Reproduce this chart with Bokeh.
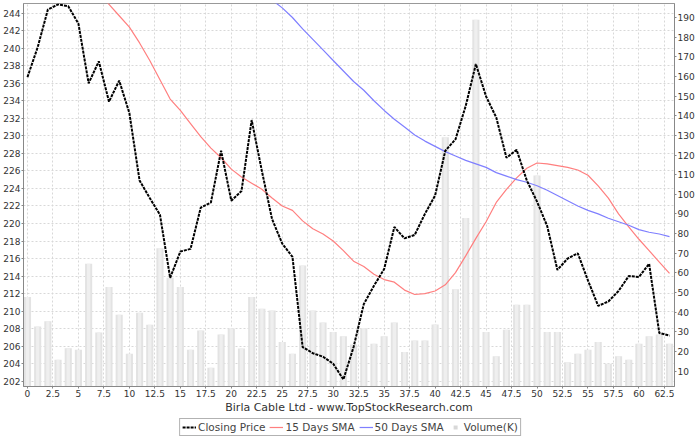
from bokeh.plotting import figure
from bokeh.layouts import column
from bokeh.models import Range1d, LinearAxis, FixedTicker, Legend, LegendItem
from bokeh.embed import file_html
from bokeh.resources import INLINE

# ---- data ----
close = [236.7, 240.1, 244.4, 245.0, 244.8, 242.8, 236.0, 238.5, 233.9, 236.3,
         232.6, 224.9, 222.9, 221.0, 213.8, 216.8, 217.1, 221.8, 222.4, 228.3,
         222.6, 223.7, 231.8, 226.0, 220.5, 217.7, 216.2, 205.9, 205.2, 204.8,
         204.0, 202.2, 205.9, 210.8, 212.9, 214.8, 219.6, 218.3, 218.7, 221.1,
         223.2, 228.3, 229.6, 233.4, 238.2, 234.5, 232.1, 227.5, 228.4, 224.9,
         222.5, 219.7, 214.7, 216.0, 216.6, 213.5, 210.6, 211.1, 212.3, 214.0,
         213.9, 215.4, 207.5, 207.2]

volume = [47.7, 32.7, 35.4, 15.8, 21.7, 20.9, 64.7, 29.7, 52.8, 38.7,
          18.9, 39.7, 33.6, 72.6, 57.5, 52.8, 20.9, 30.7, 11.7, 28.7,
          31.7, 21.6, 47.7, 41.8, 40.9, 24.8, 18.9, 63.8, 40.9, 34.8,
          29.9, 27.8, 23.6, 31.9, 24.0, 27.8, 34.8, 19.7, 25.6, 25.6,
          33.8, 129.1, 51.7, 87.9, 188.8, 29.9, 17.6, 31.1, 43.8, 43.8,
          109.6, 29.9, 29.9, 14.6, 18.9, 20.9, 24.8, 13.8, 17.6, 15.8,
          24.0, 27.8, 28.7, 24.0]

sma15_start = 7
sma15 = [246.3, 245.0, 243.7, 242.4, 240.6, 238.6, 236.4, 234.2, 232.9, 231.4,
         229.9, 228.6, 227.5, 226.2, 225.3, 224.6, 223.9, 222.9, 222.0, 221.5,
         220.3, 219.4, 218.8, 218.0, 216.9, 215.7, 215.1, 214.2, 213.6, 213.3,
         212.4, 211.9, 212.0, 212.3, 213.0, 214.4, 216.3, 218.3, 220.2, 222.4,
         223.9, 225.2, 226.3, 226.9, 226.8, 226.6, 226.4, 226.1, 225.5, 224.3,
         222.9, 221.1, 219.6, 218.2, 216.9, 215.6, 214.3]

sma50_start = 24
sma50 = [245.5, 244.6, 243.5, 242.2, 241.0, 239.8, 238.6, 237.4, 236.2, 235.2,
         234.0, 232.9, 231.9, 231.0, 230.1, 229.4, 228.8, 228.2, 227.7, 227.2,
         226.8, 226.4, 225.8, 225.4, 225.0, 224.7, 224.3, 223.8, 223.2, 222.6,
         222.0, 221.5, 221.1, 220.6, 220.2, 219.8, 219.3, 219.0, 218.8, 218.5]

x_ticks = [i * 2.5 for i in range(26)]
left_ticks = list(range(202, 246, 2))
right_ticks = list(range(10, 200, 10))

title_text = "Birla Cable Ltd - www.TopStockResearch.com"
legend_labels = ["Closing Price", "15 Days SMA", "50 Days SMA", "Volume(K)"]

# ---- figure ----
days = list(range(len(close)))
x15 = list(range(sma15_start, sma15_start + len(sma15)))
x50 = list(range(sma50_start, sma50_start + len(sma50)))

FONT = "DejaVu Sans"
RED = "#ff7f7f"
BLUE = "#7f7fff"

p = figure(frame_width=651, frame_height=383, output_backend="svg",
           toolbar_location=None,
           x_range=Range1d(-0.39, 63.49), y_range=Range1d(201.4, 245.1),
           min_border_left=0, min_border_right=0, min_border_top=3,
           min_border_bottom=0, background_fill_color="white",
           border_fill_color="white")
p.outline_line_color = "#999999"
p.extra_y_ranges = {"vol": Range1d(2.2, 197.1)}

# grid
for g in (p.xgrid, p.ygrid):
    g.grid_line_color = "#d8d8d8"
    g.grid_line_dash = "2 2"
    g.grid_line_width = 1
p.xgrid.ticker = FixedTicker(ticks=x_ticks)
p.ygrid.ticker = FixedTicker(ticks=left_ticks)

# volume bars
p.vbar(x=days, top=volume, bottom=2.2, width=0.7, fill_color="#e3e3e3",
       line_color=None, y_range_name="vol")
p.vbar(x=days, top=volume, bottom=2.2, width=0.32, fill_color="#efefef",
       line_color=None, y_range_name="vol")

# lines
p.line(x15, sma15, line_color=RED, line_width=1.2)
p.line(x50, sma50, line_color=BLUE, line_width=1.2)
p.line(days, close, line_color="black", line_width=2, line_dash="3 1")

# axes
def style_axis(ax):
    ax.axis_line_color = "#888888"
    ax.major_tick_line_color = "#888888"
    ax.major_tick_out = 2
    ax.major_tick_in = 0
    ax.minor_tick_out = 0
    ax.minor_tick_in = 0
    ax.major_label_standoff = 1
    ax.major_label_text_font = FONT
    ax.major_label_text_font_size = "9px"
    ax.major_label_text_color = "#333333"

xa = p.xaxis[0]
xa.ticker = FixedTicker(ticks=x_ticks)
xa.major_label_overrides = {t: f"{t:g}" for t in x_ticks}
style_axis(xa)
xa.axis_label = title_text
xa.axis_label_text_font = FONT
xa.axis_label_text_font_size = "11px"
xa.axis_label_text_font_style = "normal"
xa.axis_label_text_color = "#333333"
xa.axis_label_standoff = 1

ya = p.yaxis[0]
ya.ticker = FixedTicker(ticks=left_ticks)
style_axis(ya)

ra = LinearAxis(y_range_name="vol", ticker=FixedTicker(ticks=right_ticks))
style_axis(ra)
p.add_layout(ra, "right")

# ---- legend strip (separate small figure holding only the legend) ----
q = figure(width=700, height=22, output_backend="svg", toolbar_location=None,
           x_axis_type=None, y_axis_type=None, min_border=0,
           x_range=Range1d(0, 1), y_range=Range1d(0, 1),
           background_fill_color="white", border_fill_color="white")
q.outline_line_color = None
# legend-sample renderers, kept outside the strip's visible range
off_x = [5, 6]
off_y = [5, 5]
lc = q.line(off_x, off_y, line_color="black", line_width=2, line_dash="3 1")
l15 = q.line(off_x, off_y, line_color=RED, line_width=1.2)
l50 = q.line(off_x, off_y, line_color=BLUE, line_width=1.2)
lv = q.scatter(off_x, off_y, marker="square", size=6, fill_color="#d8d8d8",
               line_color=None)

legend = Legend(items=[LegendItem(label=legend_labels[0], renderers=[lc]),
                       LegendItem(label=legend_labels[1], renderers=[l15]),
                       LegendItem(label=legend_labels[2], renderers=[l50]),
                       LegendItem(label=legend_labels[3], renderers=[lv])],
                orientation="horizontal", location="center",
                label_text_font=FONT, label_text_font_size="10.5px",
                label_text_color="#444444", glyph_width=14, glyph_height=10,
                label_standoff=2, spacing=4, padding=2, margin=0,
                border_line_color="#666666", border_line_width=1,
                background_fill_color="white", label_height=12)
q.add_layout(legend, "center")

layout = column(p, q, spacing=0)
open("out.html", "w").write(file_html(layout, INLINE))
